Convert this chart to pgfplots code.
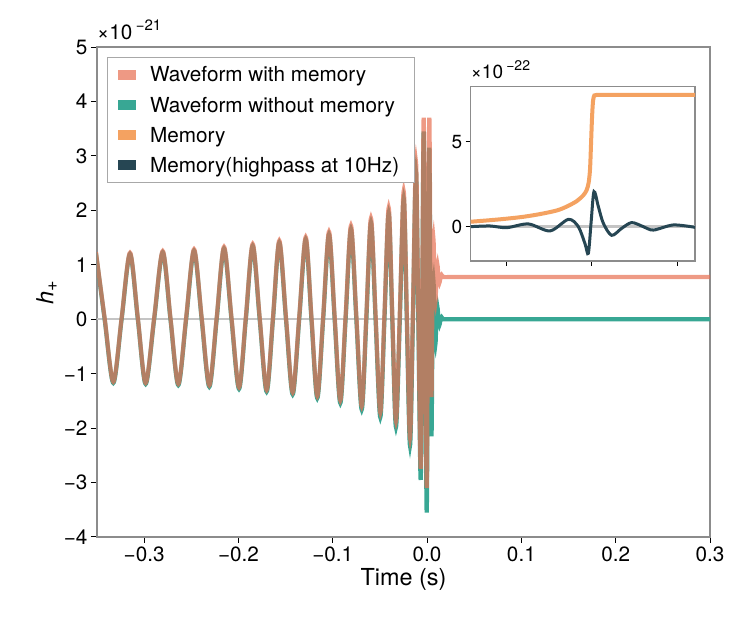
\documentclass[border=0pt]{standalone}
\usepackage{fontspec}
\setmainfont{TeX Gyre Heros}
\usepackage{pgfplots}
\pgfplotsset{compat=1.18}
\usepackage{pgfplotstable}

\definecolor{wavemem}{HTML}{E76F51}
\definecolor{wavenomem}{HTML}{38A794}
\definecolor{memcol}{HTML}{F4A261}
\definecolor{hpcol}{HTML}{264653}
\definecolor{framegray}{HTML}{8C8C8C}
\definecolor{zerogray}{HTML}{C4C4C4}
\definecolor{legendgray}{HTML}{A8A8A8}

\newcommand{\fs}{\fontsize{20.7}{24}\selectfont}

% waveform, units of 1e-21 ; columns: time, without memory, with memory
\pgfplotstableread{
t nomem mem
-0.3511 1.21 1.23
-0.3419 0 0.020
-0.3327 -1.17 -1.15
-0.3239 0 0.020
-0.3150 1.20 1.22
-0.3067 0 0.020
-0.2984 -1.19 -1.17
-0.2894 0 0.021
-0.2803 1.23 1.252
-0.2721 0 0.022
-0.2638 -1.21 -1.187
-0.2555 0 0.024
-0.2471 1.26 1.285
-0.2390 0 0.026
-0.2309 -1.24 -1.213
-0.2231 0 0.027
-0.2153 1.30 1.328
-0.2074 0 0.029
-0.1994 -1.28 -1.25
-0.1922 0 0.030
-0.1849 1.35 1.381
-0.1775 0 0.031
-0.1701 -1.33 -1.298
-0.1634 0 0.032
-0.1567 1.41 1.443
-0.1496 0 0.033
-0.1425 -1.38 -1.346
-0.1356 0 0.035
-0.1287 1.47 1.506
-0.1226 0 0.038
-0.1164 -1.45 -1.41
-0.1102 0 0.042
-0.1040 1.56 1.605
-0.0980 0 0.047
-0.0920 -1.54 -1.49
-0.0864 0 0.054
-0.0807 1.66 1.718
-0.0750 0 0.061
-0.0693 -1.66 -1.595
-0.0644 0 0.070
-0.0595 1.78 1.854
-0.0546 0 0.079
-0.0496 -1.80 -1.715
-0.0452 0 0.090
-0.0407 1.95 2.047
-0.0369 0 0.103
-0.0330 -1.98 -1.87
-0.0289 0 0.120
-0.0248 2.22 2.35
-0.0215 0 0.140
-0.0181 -2.32 -2.17
-0.0150 0 0.160
-0.0118 2.72 2.895
-0.0093 0 0.190
-0.0068 -2.95 -2.745
-0.0052 0 0.225
-0.0036 3.45 3.70
-0.0020 0 0.330
-0.0004 -3.55 -3.10
0.0010 0 0.500
0.0024 3.15 3.70
0.0036 0 0.650
0.0047 -2.15 -1.43
0.0058 0 0.740
0.0068 0.70 1.46
0.0078 0 0.770
0.0089 -0.45 0.325
0.0099 0 0.775
0.0110 0.22 0.995
0.0121 0 0.775
0.0132 -0.10 0.675
0.0143 0 0.775
0.0153 0.04 0.815
0.0175 0 0.775
0.0250 0 0.775
0.0500 0 0.775
0.1000 0 0.775
0.2000 0 0.775
0.3000 0 0.775
}\wavetab

% inset, units of 1e-22
\pgfplotstableread{
t m
-0.1412 0.29
-0.1187 0.38
-0.0992 0.47
-0.0798 0.58
-0.0603 0.74
-0.0409 0.95
-0.0292 1.18
-0.0175 1.50
-0.0097 1.85
-0.0058 2.16
-0.0035 2.60
-0.0019 3.40
-0.0008 4.80
0.0004 6.40
0.0016 7.40
0.0031 7.72
0.0058 7.75
0.0200 7.75
0.0500 7.75
0.0800 7.75
0.1206 7.75
}\memtab

\pgfplotstableread{
t m
-0.1412 0.00
-0.1187 0.04
-0.0992 -0.06
-0.0739 0.16
-0.0486 -0.25
-0.0272 0.43
-0.0156 0.00
-0.0078 -1.00
-0.0039 -1.57
-0.0006 0.30
0.0027 2.06
0.0078 1.18
0.0136 0.20
0.0233 -0.51
0.0350 -0.10
0.0467 0.24
0.0603 0.00
0.0720 -0.20
0.0953 0.10
0.1206 -0.04
}\hptab

\begin{document}
\begin{tikzpicture}
\begin{axis}[
    name=main,
    scale only axis,
    width=613pt, height=490pt,
    xmin=-0.35, xmax=0.3, ymin=-4, ymax=5,
    clip mode=individual,
    xtick={-0.3,-0.2,-0.1,0,0.1,0.2,0.3},
    xticklabels={−0.3,−0.2,−0.1,0.0,0.1,0.2,0.3},
    ytick={-4,-3,-2,-1,0,1,2,3,4,5},
    yticklabels={−4,−3,−2,−1,0,1,2,3,4,5},
    tick pos=left, tick align=outside,
    major tick length=6pt,
    tick style={black, line width=1pt},
    axis line style={framegray, line width=1.2pt},
    tick label style={font=\fs},
    xlabel={Time (s)},
    ylabel={\textit{h}\textsubscript{\fontsize{18}{20}\selectfont +}},
    label style={font=\fontsize{23.4}{28}\selectfont},
    legend style={
      at={(0,1)}, anchor=north west, xshift=9.7pt, yshift=-10.3pt,
      draw=legendgray, line width=1pt, font=\fs,
      inner xsep=6pt, inner ysep=7pt, row sep=9.5pt,
      cells={anchor=west},
      nodes={inner xsep=9pt}
    },
    legend image code/.code={\draw[#1, line width=10pt] (0pt,0pt) -- (18pt,0pt);},
  ]
  \addplot[zerogray, line width=2.5pt, forget plot] coordinates {(-0.35,0) (0.3,0)};
  \addplot[wavenomem, line width=4.2pt, smooth, forget plot] table[x=t, y=nomem] {\wavetab};
  \addplot[wavemem, opacity=0.7, line width=4.2pt, smooth, forget plot] table[x=t, y=mem] {\wavetab};

  \addlegendimage{wavemem, opacity=0.7}
  \addlegendentry{Waveform with memory}
  \addlegendimage{wavenomem}
  \addlegendentry{Waveform without memory}
  \addlegendimage{memcol}
  \addlegendentry{Memory}
  \addlegendimage{hpcol}
  \addlegendentry{Memory(highpass at 10Hz)}

  \node[anchor=base west, inner sep=0pt] at (rel axis cs:0,1) [yshift=8pt]
    {\fontsize{20.7}{24}\selectfont ×10\,\raisebox{0.42em}{\fontsize{15}{16}\selectfont −21}};
\end{axis}

\begin{axis}[
    at={(main.south west)}, anchor=south west,
    xshift=373.7pt, yshift=276pt,
    scale only axis,
    width=224.3pt, height=174.3pt,
    xmin=-0.1412, xmax=0.1206, ymin=-2.02, ymax=8.235,
    clip mode=individual,
    xtick={-0.1,0,0.1}, xticklabels={},
    ytick={0,5}, yticklabels={0,5},
    tick pos=left, tick align=outside,
    major tick length=5pt,
    tick style={black, line width=1pt},
    axis line style={framegray, line width=1.2pt},
    axis background/.style={fill=white},
    tick label style={font=\fontsize{19}{22}\selectfont},
  ]
  \addplot[zerogray, line width=2.5pt] coordinates {(-0.1412,0) (0.1206,0)};
  \addplot[memcol, line width=4pt, smooth] table[x=t, y=m] {\memtab};
  \addplot[hpcol, line width=3pt, smooth] table[x=t, y=m] {\hptab};
  \node[anchor=base west, inner sep=0pt] at (rel axis cs:0,1) [yshift=8pt]
    {\fontsize{19}{22}\selectfont ×10\,\raisebox{0.42em}{\fontsize{14}{15}\selectfont −22}};
\end{axis}

\path (main.south west) ++(-97pt,-86pt) rectangle ++(747pt,623pt);
\end{tikzpicture}
\end{document}
